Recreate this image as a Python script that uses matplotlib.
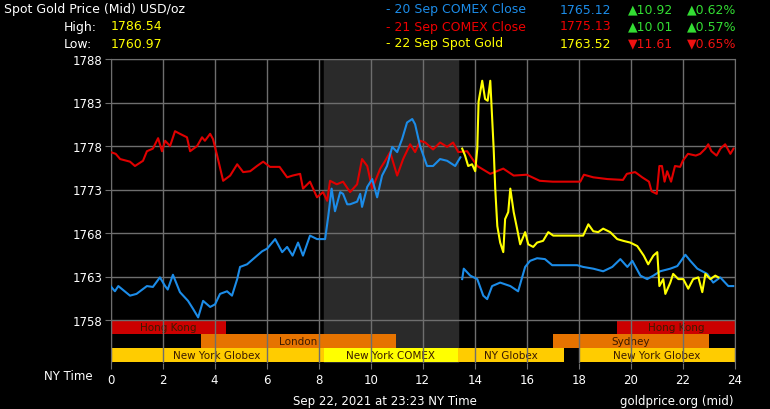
#!/usr/bin/env python3

"""
goldChart.py - spot gold price, three days on one NY-time axis
"""

import matplotlib
matplotlib.use("Agg")
import matplotlib.pyplot as plt

# 20 Sep COMEX close (blue), two pieces
blueHours1 = [0.0, 0.17, 0.3, 0.75, 1.0, 1.4, 1.63, 1.9, 2.1, 2.2, 2.4, 2.67, 2.98, 3.17, 3.37,
              3.56, 3.83, 4.02, 4.21, 4.48, 4.67, 4.87, 4.98, 5.25, 5.48, 5.83, 6.02, 6.33, 6.6,
              6.79, 7.0, 7.21, 7.4, 7.67, 7.94, 8.25, 8.37, 8.5, 8.63, 8.83, 8.94, 9.1, 9.21,
              9.48, 9.6, 9.67, 9.87, 10.06, 10.25, 10.44, 10.63, 10.83, 11.02, 11.21, 11.4,
              11.6, 11.71, 11.9, 12.17, 12.4, 12.67, 12.94, 13.25, 13.45]
bluePrices1 = [1761.9, 1761.3, 1761.9, 1760.8, 1761.0, 1761.9, 1761.8, 1762.9, 1761.9, 1761.5,
               1763.2, 1761.2, 1760.2, 1759.3, 1758.3, 1760.2, 1759.5, 1759.8, 1761.0, 1761.3,
               1760.8, 1762.7, 1764.1, 1764.4, 1765.0, 1765.9, 1766.2, 1767.3, 1765.8, 1766.4,
               1765.4, 1766.9, 1765.4, 1767.7, 1767.3, 1767.3, 1769.9, 1773.1, 1770.5, 1772.7,
               1772.5, 1771.3, 1771.3, 1771.6, 1772.5, 1771.0, 1773.3, 1774.2, 1772.1, 1774.6,
               1775.7, 1777.9, 1777.3, 1778.8, 1780.7, 1781.1, 1780.5, 1778.0, 1775.7, 1775.7,
               1776.5, 1776.3, 1775.7, 1776.7]
blueHours2 = [13.52, 13.58, 13.83, 14.1, 14.33, 14.48, 14.67, 14.98, 15.37, 15.67, 15.94, 16.13,
              16.4, 16.7, 16.98, 17.94, 18.17, 18.56, 18.94, 19.29, 19.6, 19.87, 20.06, 20.37,
              20.63, 20.87, 21.13, 21.52, 21.79, 22.1, 22.29, 22.56, 22.94, 23.17, 23.44, 23.75,
              23.94]
bluePrices2 = [1762.7, 1763.9, 1763.1, 1762.7, 1760.8, 1760.4, 1761.9, 1762.3, 1761.9, 1761.3,
               1764.1, 1764.8, 1765.1, 1765.0, 1764.3, 1764.3, 1764.1, 1763.9, 1763.6, 1764.1,
               1765.0, 1764.1, 1764.8, 1763.1, 1762.7, 1763.1, 1763.6, 1763.9, 1764.2, 1765.5,
               1764.8, 1763.9, 1763.3, 1762.3, 1762.9, 1761.9, 1761.9]

# 21 Sep COMEX close (red)
redHours = [0.0, 0.2, 0.37, 0.75, 0.94, 1.25, 1.4, 1.63, 1.83, 1.98, 2.1, 2.29, 2.48, 2.67, 2.94,
            3.06, 3.33, 3.52, 3.63, 3.83, 3.94, 4.1, 4.33, 4.6, 4.87, 5.1, 5.37, 5.63, 5.87,
            6.13, 6.5, 6.79, 7.0, 7.29, 7.4, 7.67, 7.94, 8.17, 8.33, 8.44, 8.7, 8.94, 9.21,
            9.48, 9.67, 9.87, 10.06, 10.37, 10.56, 10.75, 11.02, 11.25, 11.52, 11.71, 11.9,
            12.1, 12.4, 12.67, 12.94, 13.17, 13.37, 13.71, 14.1, 14.6, 15.1, 15.5, 16.0, 16.5,
            17.0, 18.06, 18.2, 18.56, 19.1, 19.7, 19.85, 20.17, 20.44, 20.7, 20.8, 21.0, 21.1,
            21.2, 21.3, 21.4, 21.55, 21.7, 21.9, 22.0, 22.2, 22.5, 22.67, 22.87, 22.98, 23.1,
            23.3, 23.45, 23.63, 23.83, 23.95]
redPrices = [1777.3, 1777.1, 1776.5, 1776.2, 1775.7, 1776.3, 1777.4, 1777.7, 1778.9, 1777.4,
             1778.6, 1778.0, 1779.7, 1779.4, 1779.0, 1777.4, 1778.0, 1779.0, 1778.6, 1779.4,
             1778.8, 1776.9, 1774.0, 1774.6, 1775.9, 1775.0, 1775.1, 1775.7, 1776.2, 1775.6,
             1775.6, 1774.4, 1774.6, 1774.8, 1773.1, 1773.9, 1772.1, 1772.7, 1771.7, 1774.0,
             1773.6, 1773.9, 1772.7, 1773.6, 1776.5, 1775.7, 1773.1, 1775.4, 1776.3, 1777.3,
             1774.6, 1776.5, 1778.2, 1777.3, 1778.6, 1778.4, 1777.6, 1778.4, 1777.9, 1778.4,
             1777.3, 1777.4, 1775.7, 1774.8, 1775.4, 1774.6, 1774.7, 1774.0, 1773.9, 1773.9,
             1774.7, 1774.4, 1774.2, 1774.1, 1774.8, 1775.0, 1774.4, 1773.9, 1772.8, 1772.5,
             1775.7, 1775.7, 1773.9, 1775.1, 1773.9, 1775.7, 1775.6, 1776.3, 1777.1, 1776.9,
             1777.1, 1777.7, 1778.2, 1777.4, 1776.9, 1777.7, 1778.2, 1777.1, 1777.7]

# 22 Sep spot gold (yellow)
yellowHours = [13.52, 13.63, 13.75, 13.9, 14.02, 14.1, 14.15, 14.29, 14.4, 14.5, 14.6, 14.73,
               14.79, 14.87, 14.98, 15.1, 15.17, 15.29, 15.37, 15.5, 15.63, 15.75, 15.94, 16.06,
               16.25, 16.4, 16.63, 16.83, 17.02, 18.17, 18.37, 18.56, 18.75, 18.94, 19.21,
               19.48, 19.71, 19.98, 20.25, 20.5, 20.67, 20.87, 21.02, 21.1, 21.25, 21.33, 21.52,
               21.63, 21.83, 22.02, 22.21, 22.4, 22.6, 22.75, 22.87, 23.06, 23.25, 23.37]
yellowPrices = [1777.7, 1776.9, 1775.7, 1775.9, 1775.1, 1777.7, 1783.1, 1785.5, 1783.4, 1783.2,
                1785.5, 1777.7, 1773.1, 1768.8, 1766.9, 1765.8, 1769.6, 1770.4, 1773.1, 1770.4,
                1768.5, 1766.7, 1768.1, 1766.7, 1766.4, 1766.9, 1767.1, 1768.1, 1767.7, 1767.7,
                1769.0, 1768.2, 1768.1, 1768.5, 1768.1, 1767.3, 1767.1, 1766.9, 1766.5, 1765.4,
                1764.4, 1765.4, 1765.8, 1761.9, 1762.7, 1761.0, 1762.3, 1763.3, 1762.7, 1762.7,
                1761.6, 1762.7, 1762.9, 1761.2, 1763.3, 1762.7, 1763.1, 1762.9]

# trading sessions shown under the chart (row 0 = top)
sessionNames = ["Hong Kong", "Hong Kong", "London", "Sydney", "New York Globex",
                "New York COMEX", "NY Globex", "New York Globex"]
sessionStart = [0.0, 19.47, 3.47, 17.0, 0.0, 8.2, 13.35, 18.0]
sessionEnd = [4.45, 24.0, 10.97, 23.0, 8.2, 13.35, 17.43, 24.0]
sessionRow = [0, 0, 1, 1, 2, 2, 2, 2]
sessionColor = ["#cc0000", "#cc0000", "#e67300", "#e67300", "#ffcc00", "#ffff00", "#ffcc00", "#ffcc00"]

comexOpen = (8.2, 13.35)
xTicks = list(range(0, 25, 2))
yTicks = [1758, 1763, 1768, 1773, 1778, 1783, 1788]

legendRows = [("- 20 Sep COMEX Close", "1765.12", "\u25b210.92", "\u25b20.62%", "#1c8ce8", "#33dd33"),
              ("- 21 Sep COMEX Close", "1775.13", "\u25b210.01", "\u25b20.57%", "#ee0000", "#33dd33"),
              ("- 22 Sep Spot Gold", "1763.52", "\u25bc11.61", "\u25bc0.65%", "#ffff00", "#ee1111")]

BLUE = "#1c8ce8"
RED = "#e00000"
YELLOW = "#ffff00"
GRID = "#6e6e6e"


def px(x, y):
    # figure pixel -> figure fraction
    return x / 770, 1 - y / 410


def plotChart():
    fig = plt.figure(figsize=(7.7, 4.1), dpi=100, facecolor="black")
    ax = fig.add_axes([110.5 / 770, 1 - 364 / 410, 624.3 / 770, 304 / 410], facecolor="black")

    yBottom = 1788 - 304 / 8.7
    ax.set_xlim(0, 24)
    ax.set_ylim(yBottom, 1788)

    ax.axvspan(comexOpen[0], comexOpen[1], color="#2a2a2a", zorder=0)

    # session bars
    rowH = 1.61
    for name, s, e, r, c in zip(sessionNames, sessionStart, sessionEnd, sessionRow, sessionColor):
        top = 1758 - r * rowH
        bot = max(top - rowH, yBottom)
        ax.fill_between([s, e], bot, top, color=c, lw=0, zorder=1)
        ax.text((s + e) / 2, (top + bot) / 2, name, color="#3a1a00", fontsize=7.5,
                ha="center", va="center", zorder=1.5)

    ax.plot(redHours, redPrices, color=RED, lw=1.5, zorder=3)
    ax.plot(blueHours1, bluePrices1, color=BLUE, lw=1.5, zorder=3)
    ax.plot(blueHours2, bluePrices2, color=BLUE, lw=1.5, zorder=3)
    ax.plot(yellowHours, yellowPrices, color=YELLOW, lw=1.5, zorder=3)

    ax.set_xticks(xTicks)
    ax.set_yticks(yTicks)
    ax.grid(True, color=GRID, lw=1)
    ax.set_axisbelow(False)
    ax.tick_params(axis="x", colors=GRID, labelcolor="white", length=4, pad=3, labelsize=8.5)
    ax.tick_params(axis="y", colors=GRID, labelcolor="white", length=4.5, pad=1.5, labelsize=8.5)
    for side in ["left", "top", "right"]:
        ax.spines[side].set_color(GRID)
    ax.spines["bottom"].set_visible(False)

    # header
    fig.text(*px(4, 10), "Spot Gold Price (Mid) USD/oz", color="white", fontsize=9, va="center")
    fig.text(*px(64, 27), "High:", color="white", fontsize=9, va="center")
    fig.text(*px(111, 27), "1786.54", color=YELLOW, fontsize=9, va="center")
    fig.text(*px(64, 44), "Low:", color="white", fontsize=9, va="center")
    fig.text(*px(111, 44), "1760.97", color=YELLOW, fontsize=9, va="center")

    for i, (label, value, change, pct, col, chgCol) in enumerate(legendRows):
        y = 10 + i * 17
        fig.text(*px(386, y), label, color=col, fontsize=9, va="center")
        fig.text(*px(611, y), value, color=col, fontsize=9, va="center", ha="right")
        fig.text(*px(628, y), change, color=chgCol, fontsize=9, va="center")
        fig.text(*px(687, y), pct, color=chgCol, fontsize=9, va="center")

    # footer
    fig.text(*px(93, 377), "NY Time", color="white", fontsize=8.5, va="center", ha="right")
    fig.text(*px(385, 402), "Sep 22, 2021 at 23:23 NY Time", color="white", fontsize=8.5,
             va="center", ha="center")
    fig.text(*px(733, 402), "goldprice.org (mid)", color="white", fontsize=8.5,
             va="center", ha="right")

    fig.savefig("out.png", dpi=100, facecolor="black")


def main():
    plotChart()


if __name__ == "__main__":
    main()
